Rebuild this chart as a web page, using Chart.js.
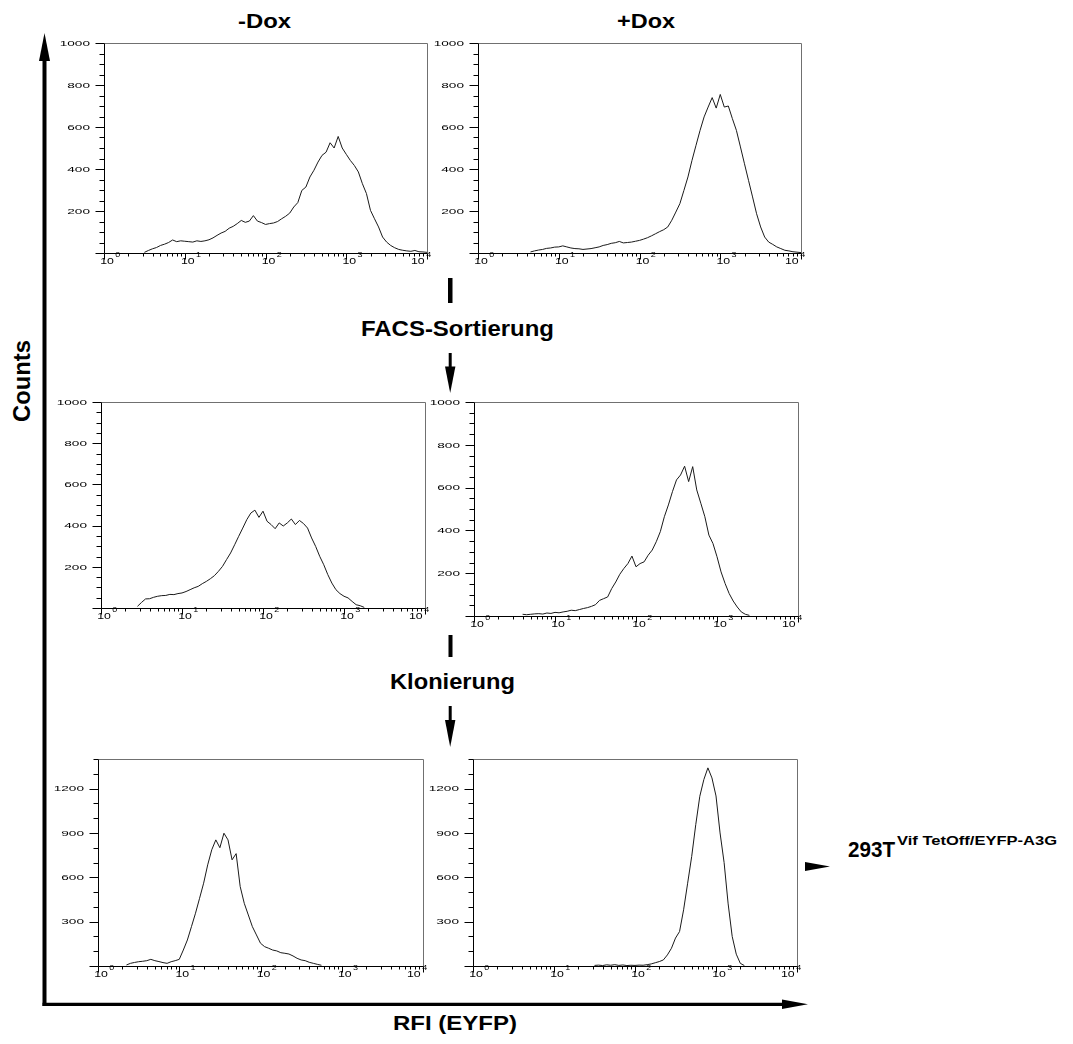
<!DOCTYPE html>
<html lang="de">
<head>
  <meta charset="UTF-8">
  <title>293T Vif TetOff/EYFP-A3G</title>
  <script src="https://cdn.jsdelivr.net/npm/chart.js"></script>
  <style>
    body { margin: 0; background: #fff; }
    #page { position: relative; width: 1073px; height: 1044px; overflow: hidden; }
    #page svg { position: absolute; left: 0; top: 0; }
    #page canvas { position: absolute; }
  </style>
</head>
<body>
<div id="page">
  <svg width="1073" height="1044" font-family="'Liberation Sans', Arial, sans-serif" font-weight="bold" fill="#000">
    <text x="238" y="28" font-size="20" textLength="53" lengthAdjust="spacingAndGlyphs">-Dox</text>
    <text x="617" y="28" font-size="20" textLength="58" lengthAdjust="spacingAndGlyphs">+Dox</text>
    <text transform="translate(30 381) rotate(-90)" text-anchor="middle" font-size="23" textLength="82" lengthAdjust="spacingAndGlyphs">Counts</text>
    <text x="393" y="1030" font-size="20.5" textLength="124" lengthAdjust="spacingAndGlyphs">RFI (EYFP)</text>
    <text x="361" y="336" font-size="22" textLength="193" lengthAdjust="spacingAndGlyphs">FACS-Sortierung</text>
    <text x="390" y="689" font-size="22" textLength="125" lengthAdjust="spacingAndGlyphs">Klonierung</text>
    <text x="848" y="857" font-size="22" textLength="47" lengthAdjust="spacingAndGlyphs">293T</text>
    <text x="897" y="845" font-size="13" textLength="160" lengthAdjust="spacingAndGlyphs">Vif TetOff/EYFP-A3G</text>

    <!-- big axes arrows -->
    <line x1="44.5" y1="58" x2="44.5" y2="1006" stroke="#000" stroke-width="4"/>
    <polygon points="44.5,33 39,61 50,61"/>
    <line x1="42.5" y1="1004.3" x2="784" y2="1004.3" stroke="#000" stroke-width="3.3"/>
    <polygon points="808,1004.3 782,999.5 782,1009"/>

    <!-- step arrows -->
    <rect x="448" y="278" width="4.5" height="25"/>
    <line x1="450.2" y1="353" x2="450.2" y2="369" stroke="#000" stroke-width="3"/>
    <polygon points="450.2,393 445,366.5 455.4,366.5"/>
    <rect x="448.5" y="635" width="4" height="22"/>
    <line x1="450.2" y1="706" x2="450.2" y2="722" stroke="#000" stroke-width="3"/>
    <polygon points="450.2,747 445,720 455.4,720"/>
    <polygon points="805,862 805,871 830,866.5"/>
  </svg>
  <canvas id="c1"></canvas>
  <canvas id="c2"></canvas>
  <canvas id="c3"></canvas>
  <canvas id="c4"></canvas>
  <canvas id="c5"></canvas>
  <canvas id="c6"></canvas>
</div>

<script>
  // channel positions, log10 of fluorescence
  const channelExp = [
    0.30,0.35,0.40,0.45,0.50,0.55,0.60,0.65,0.70,0.75,
    0.80,0.85,0.90,0.95,1.00,1.05,1.10,1.15,1.20,1.25,
    1.30,1.35,1.40,1.45,1.50,1.55,1.60,1.65,1.70,1.75,
    1.80,1.85,1.90,1.95,2.00,2.05,2.10,2.15,2.20,2.25,
    2.30,2.35,2.40,2.45,2.50,2.55,2.60,2.65,2.70,2.75,
    2.80,2.85,2.90,2.95,3.00,3.05,3.10,3.15,3.20,3.25,
    3.30,3.35,3.40,3.45,3.50,3.55,3.60,3.65,3.70,3.75,
    3.80,3.85,3.90,3.95,4.00
  ];

  const minusDoxUnsorted = [
    null,null,null,null,3,12,20,26,36,42,
    50,62,54,58,56,54,52,58,55,58,
    63,72,84,95,103,118,127,140,155,146,
    152,178,152,145,136,140,143,150,163,175,
    190,219,240,298,314,362,394,433,465,480,
    525,500,555,500,470,441,417,386,330,283,
    203,163,124,76,52,36,25,17,13,10,
    8,12,6,5,3
  ];
  const plusDoxUnsorted = [
    null,null,null,null,null,null,null,5,10,14,
    17,22,24,28,29,34,29,24,21,20,
    17,19,21,25,29,36,40,46,49,55,
    48,50,52,56,60,66,73,82,92,102,
    111,124,156,195,235,298,362,441,513,584,
    648,695,740,690,755,695,700,640,584,505,
    425,346,267,187,124,76,52,41,29,21,
    13,10,6,4,2
  ];
  const minusDoxSorted = [
    null,null,null,8,27,44,45,52,57,60,
    61,66,65,70,73,80,89,98,105,118,
    129,142,157,178,202,235,267,307,348,388,
    429,461,475,440,470,421,405,385,413,398,
    413,432,405,425,410,388,340,299,251,210,
    162,121,89,70,57,49,32,16,11,3,
    null,null,null,null,null,null,null,null,null,null,
    null,null,null,null,null
  ];
  const plusDoxSorted = [
    null,null,null,null,null,null,8,6,8,10,
    11,9,14,12,17,15,19,22,27,25,
    30,35,39,45,53,73,81,89,128,159,
    195,222,245,280,230,245,253,284,308,347,
    394,464,519,581,636,659,700,628,698,589,
    527,464,378,339,277,206,152,105,70,42,
    19,8,3,null,null,null,null,null,null,null,
    null,null,null,null,null
  ];
  const minusDoxClone = [
    null,7,18,24,29,32,36,45,36,30,
    23,18,29,36,45,108,176,266,357,458,
    560,684,786,853,800,898,853,718,760,537,
    424,345,266,210,154,131,120,108,102,90,
    86,81,68,52,41,36,25,18,11,5,
    null,null,null,null,null,null,null,null,null,null,
    null,null,null,null,null,null,null,null,null,null,
    null,null,null,null,null
  ];
  const plusDoxClone = [
    null,null,null,null,null,null,null,null,null,null,
    null,null,null,null,null,null,null,null,null,null,
    null,null,null,null,4,6,3,8,5,9,
    4,7,3,5,4,6,5,9,14,22,
    30,41,75,120,189,233,380,560,741,956,
    1148,1261,1340,1272,1150,900,700,420,200,80,
    18,3,null,null,null,null,null,null,null,null,
    null,null,null,null,null
  ];

  const decadeTicks = [1, 10, 100, 1000, 10000];
  const decadeExponents = ['0', '1', '2', '3', '4'];
  const countTicks1000 = [200, 400, 600, 800, 1000];
  const countTicks1400 = [300, 600, 900, 1200];

  const pad = { left: 50, top: 8, right: 10, bottom: 25 };

  const panels = [
    { id: 'c1', left: 54, top: 35, w: 383, h: 243, counts: minusDoxUnsorted, yMax: 1000, ticks: countTicks1000, minor: 50 },
    { id: 'c2', left: 428, top: 35, w: 383, h: 243, counts: plusDoxUnsorted, yMax: 1000, ticks: countTicks1000, minor: 50 },
    { id: 'c3', left: 51, top: 394, w: 384, h: 239, counts: minusDoxSorted, yMax: 1000, ticks: countTicks1000, minor: 50 },
    { id: 'c4', left: 424, top: 394, w: 384, h: 247, counts: plusDoxSorted, yMax: 1000, ticks: countTicks1000, minor: 50 },
    { id: 'c5', left: 48, top: 751, w: 385, h: 240, counts: minusDoxClone, yMax: 1400, ticks: countTicks1400, minor: 100 },
    { id: 'c6', left: 423, top: 751, w: 384, h: 240, counts: plusDoxClone, yMax: 1400, ticks: countTicks1400, minor: 100 }
  ];

  function stretchedText(ctx, str, x, y, sx, align) {
    ctx.save();
    ctx.translate(x, y);
    ctx.scale(sx, 1);
    ctx.textAlign = align;
    ctx.fillText(str, 0, 0);
    ctx.restore();
  }

  // CellQuest style frame, ticks and labels
  const facsAxes = {
    id: 'facsAxes',
    afterDraw(chart, args, opts) {
      const ctx = chart.ctx;
      const a = chart.chartArea;
      const xs = chart.scales.x, ys = chart.scales.y;
      const L = Math.round(a.left) + 0.5, R = Math.round(a.right) + 0.5;
      const T = Math.round(a.top) + 0.5, B = Math.round(a.bottom) + 0.5;

      ctx.save();
      ctx.lineWidth = 1;
      ctx.strokeStyle = '#707070';
      ctx.beginPath();
      ctx.moveTo(L, T); ctx.lineTo(R, T); ctx.lineTo(R, B);
      ctx.stroke();

      ctx.strokeStyle = '#000';
      ctx.beginPath();
      ctx.moveTo(L, T); ctx.lineTo(L, B); ctx.lineTo(R, B);
      // y ticks
      for (let v = 0; v <= opts.yMax; v += opts.minor) {
        const py = Math.round(ys.getPixelForValue(v)) + 0.5;
        const major = v === 0 || opts.ticks.includes(v);
        ctx.moveTo(L - (major ? 9 : 5), py);
        ctx.lineTo(L, py);
      }
      // x ticks
      decadeTicks.forEach((d, i) => {
        const px = Math.round(xs.getPixelForValue(d)) + 0.5;
        ctx.moveTo(px, B); ctx.lineTo(px, B + 6);
        if (i < decadeTicks.length - 1) {
          for (let m = 2; m <= 9; m++) {
            const mx = Math.round(xs.getPixelForValue(d * m)) + 0.5;
            ctx.moveTo(mx, B); ctx.lineTo(mx, B + 3);
          }
        }
      });
      ctx.stroke();

      ctx.fillStyle = '#000';
      ctx.textBaseline = 'middle';
      ctx.font = '8px "Liberation Sans", Arial, sans-serif';
      opts.ticks.forEach(v => {
        stretchedText(ctx, String(v), L - 14.5, ys.getPixelForValue(v) + 0.5, 1.7, 'right');
      });

      ctx.textBaseline = 'alphabetic';
      decadeTicks.forEach((d, i) => {
        const px = xs.getPixelForValue(d);
        ctx.font = '8.5px "Liberation Sans", Arial, sans-serif';
        const w10 = ctx.measureText('10').width * 1.45;
        const left = i === decadeTicks.length - 1 ? px - 2.3 - w10 : px + 3 - w10 / 2;
        stretchedText(ctx, '10', left, B + 10.6, 1.45, 'left');
        ctx.font = '7.5px "Liberation Sans", Arial, sans-serif';
        stretchedText(ctx, decadeExponents[i], left + w10 + 1.5, B + 3.2, 1.2, 'left');
      });
      ctx.restore();
    }
  };

  panels.forEach(p => {
    const canvas = document.getElementById(p.id);
    canvas.width = p.w;
    canvas.height = p.h;
    canvas.style.left = p.left + 'px';
    canvas.style.top = p.top + 'px';

    const points = channelExp.map((e, i) => ({ x: Math.pow(10, e), y: p.counts[i] }));

    new Chart(canvas, {
      type: 'line',
      data: {
        datasets: [{
          data: points,
          borderColor: '#1a1a1a',
          borderWidth: 1,
          pointRadius: 0,
          tension: 0,
          fill: false
        }]
      },
      options: {
        responsive: false,
        animation: false,
        events: [],
        layout: { padding: pad },
        plugins: {
          legend: { display: false },
          tooltip: { enabled: false },
          facsAxes: { yMax: p.yMax, ticks: p.ticks, minor: p.minor }
        },
        scales: {
          x: { type: 'logarithmic', min: 1, max: 10000, display: false },
          y: { type: 'linear', min: 0, max: p.yMax, display: false }
        }
      },
      plugins: [facsAxes]
    });
  });
</script>
</body>
</html>
